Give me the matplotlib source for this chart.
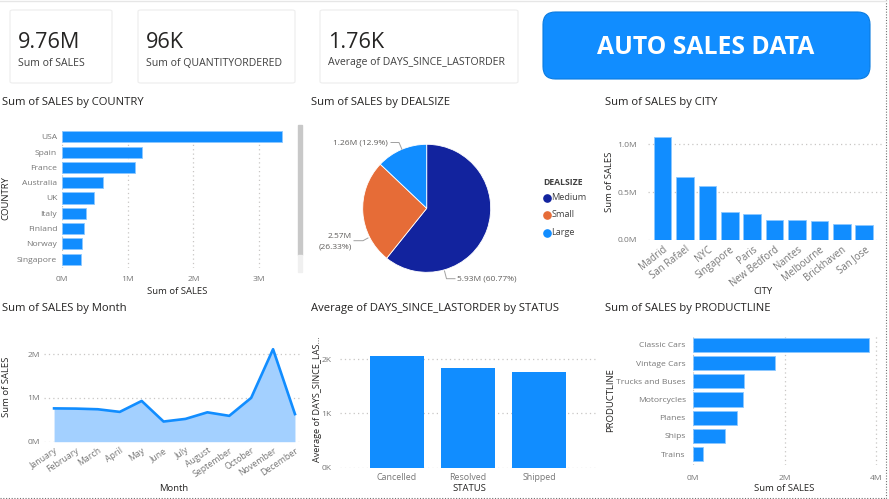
import numpy as np
import matplotlib
matplotlib.use("Agg")
import matplotlib.pyplot as plt
from matplotlib.patches import FancyBboxPatch, Rectangle
from matplotlib.lines import Line2D
from matplotlib.ticker import FuncFormatter

plt.rcParams['font.family'] = ['Open Sans', 'DejaVu Sans']

# ---- data ----
kpi_values = ['9.76M', '96K', '1.76K']
kpi_labels = ['Sum of SALES', 'Sum of QUANTITYORDERED', 'Average of DAYS_SINCE_LASTORDER']

countries = ['USA', 'Spain', 'France', 'Australia', 'UK', 'Italy', 'Finland', 'Norway', 'Singapore']
country_sales = [3.35e6, 1.22e6, 1.11e6, 0.63e6, 0.48e6, 0.37e6, 0.33e6, 0.31e6, 0.29e6]

dealsizes = ['Medium', 'Small', 'Large']
deal_sales = [5.93e6, 2.57e6, 1.26e6]
deal_pct = [60.77, 26.33, 12.9]

cities = ['Madrid', 'San Rafael', 'NYC', 'Singapore', 'Paris', 'New Bedford',
          'Nantes', 'Melbourne', 'Brickhaven', 'San Jose']
city_sales = [1.08e6, 0.655e6, 0.56e6, 0.29e6, 0.27e6, 0.21e6, 0.205e6, 0.20e6, 0.167e6, 0.16e6]

months = ['January', 'February', 'March', 'April', 'May', 'June', 'July',
          'August', 'September', 'October', 'November', 'December']
month_sales = [0.76e6, 0.755e6, 0.74e6, 0.68e6, 0.93e6, 0.46e6, 0.52e6,
               0.67e6, 0.59e6, 1.0e6, 2.11e6, 0.63e6]

statuses = ['Cancelled', 'Resolved', 'Shipped']
status_days = [2060, 1840, 1770]

productlines = ['Classic Cars', 'Vintage Cars', 'Trucks and Buses', 'Motorcycles',
                'Planes', 'Ships', 'Trains']
product_sales = [3.84e6, 1.80e6, 1.11e6, 1.10e6, 0.97e6, 0.70e6, 0.22e6]

# ---- styling ----
W, H = 889, 499
BLUE = '#118DFF'
EDGE = '#8cc8ff'
TITLE_C = '#252423'
LABEL_C = '#252423'
TICK_C = '#777777'
GRID_C = '#C8C6C4'
TITLE_FS = 8.1


def box(x0, y0, x1, y1):
    return [x0 / W, 1 - y1 / H, (x1 - x0) / W, (y1 - y0) / H]


def ftext(x, y, s, **kw):
    kw.setdefault('va', 'center')
    return fig.text(x / W, 1 - y / H, s, **kw)


def fline(xs, ys, **kw):
    fig.add_artist(Line2D([x / W for x in xs], [1 - y / H for y in ys],
                          transform=fig.transFigure, **kw))


def style(ax, grid_axis):
    for s in ax.spines.values():
        s.set_visible(False)
    ax.tick_params(length=0, labelsize=6.1, colors=TICK_C)
    ax.grid(axis=grid_axis, linestyle=(0, (1, 2.5)), color=GRID_C, linewidth=0.9)
    ax.set_axisbelow(True)


fmt_m = FuncFormatter(lambda v, p: f'{v / 1e6:.0f}M')

fig = plt.figure(figsize=(W / 100, H / 100), dpi=100)
fig.patch.set_facecolor('white')

# ---- KPI cards ----
cards = [(10, 112), (138, 295), (320, 518)]
for (x0, x1), v, lab in zip(cards, kpi_values, kpi_labels):
    fig.add_artist(FancyBboxPatch((x0 / W, 1 - 83 / H), (x1 - x0) / W, 73 / H,
                                  boxstyle='round,pad=0,rounding_size=0.003',
                                  transform=fig.transFigure, facecolor='white',
                                  edgecolor='#EDEDED', linewidth=0.8))
    ftext(x0 + 8, 43, v, fontsize=15.6, color='#252423')
    ftext(x0 + 8, 63, lab, fontsize=7.6, color='#404040')

fig.add_artist(FancyBboxPatch((543 / W, 1 - 79 / H), 327 / W, 67 / H,
                              boxstyle='round,pad=0,rounding_size=0.014',
                              mutation_aspect=W / H,
                              transform=fig.transFigure, facecolor=BLUE,
                              edgecolor='#0a7be0', linewidth=0.8))
ftext(706, 47.5, 'AUTO SALES DATA', fontsize=17.8, fontweight='bold', color='white', ha='center')

# ---- Sum of SALES by COUNTRY ----
ftext(2, 102, 'Sum of SALES by COUNTRY', fontsize=TITLE_FS, color=TITLE_C)
ax = fig.add_axes(box(62, 128, 290, 268))
yc = np.arange(len(countries))
ax.barh(yc, country_sales, height=0.72, color=BLUE, edgecolor=EDGE, linewidth=0.6)
ax.set_xlim(0, 3.47e6)
ax.set_ylim(8.57, -0.57)
ax.set_yticks(yc)
ax.set_yticklabels(countries)
ax.set_xticks([0, 1e6, 2e6, 3e6])
ax.xaxis.set_major_formatter(fmt_m)
style(ax, 'x')
ax.tick_params(axis='y', pad=3.5)
ax.tick_params(axis='x', pad=6)
ftext(177, 292, 'Sum of SALES', fontsize=6.8, color=LABEL_C, ha='center')
ftext(6, 198, 'COUNTRY', fontsize=6.8, color=LABEL_C, ha='center', rotation=90)
fig.add_artist(Rectangle((298 / W, 1 - 255 / H), 4 / W, 130 / H,
                         transform=fig.transFigure, color='#C8C8C8'))
fig.add_artist(Rectangle((298 / W, 1 - 272 / H), 4 / W, 17 / H,
                         transform=fig.transFigure, color='#F0F0F0'))

# ---- Sum of SALES by DEALSIZE ----
ftext(311, 102, 'Sum of SALES by DEALSIZE', fontsize=TITLE_FS, color=TITLE_C)
ax = fig.add_axes(box(362.7, 144.3, 490.7, 272.3))
ax.pie(deal_sales, colors=['#12239E', '#E66C37', BLUE], startangle=90,
       counterclock=False, radius=1, wedgeprops=dict(edgecolor='white', linewidth=0.6))
ax.set_xlim(-1, 1)
ax.set_ylim(-1, 1)
ax.set_aspect('equal')
pie_c = '#605E5C'
ftext(388, 143.3, f'{deal_sales[2] / 1e6:.2f}M ({deal_pct[2]}%)', fontsize=6, color=pie_c, ha='right')
fline([391, 399, 402], [142.5, 142.5, 149.5], color='#A0A0A0', linewidth=0.7)
ftext(352, 236.7, f'{deal_sales[1] / 1e6:.2f}M', fontsize=6, color=pie_c, ha='right')
ftext(352, 247.3, f'({deal_pct[1]}%)', fontsize=6, color=pie_c, ha='right')
fline([354, 363, 368], [240.7, 240.7, 238], color='#A0A0A0', linewidth=0.7)
ftext(457, 278.7, f'{deal_sales[0] / 1e6:.2f}M ({deal_pct[0]}%)', fontsize=6, color=pie_c, ha='left')
fline([444.5, 446.5, 455], [271, 278.7, 278.7], color='#A0A0A0', linewidth=0.7)
ftext(543, 182.7, 'DEALSIZE', fontsize=6.2, fontweight='bold', color='#404040')
for name, col, yy in zip(dealsizes, ['#12239E', '#E66C37', BLUE], [197.7, 214.7, 232.7]):
    fline([546.7], [yy], marker='o', markersize=5.2, color=col, linestyle='none')
    ftext(551.5, yy, name, fontsize=6.6, color='#404040')

# ---- Sum of SALES by CITY ----
ftext(605, 102, 'Sum of SALES by CITY', fontsize=TITLE_FS, color=TITLE_C)
ax = fig.add_axes(box(648, 128, 882, 240))
xc = np.arange(len(cities))
ax.bar(xc, city_sales, width=0.79, color=BLUE, edgecolor=EDGE, linewidth=0.6)
ax.set_xlim(-0.65, 9.79)
ax.set_ylim(0, 1.17e6)
ax.set_yticks([0, 0.5e6, 1.0e6])
ax.yaxis.set_major_formatter(FuncFormatter(lambda v, p: f'{v / 1e6:.1f}M'))
ax.set_xticks(xc)
ax.set_xticklabels(cities, rotation=38, ha='right', rotation_mode='anchor')
style(ax, 'y')
ax.tick_params(axis='y', pad=8)
ax.tick_params(axis='x', pad=3, labelsize=6.9)
ftext(763, 291, 'CITY', fontsize=6.8, color=LABEL_C, ha='center')
ftext(610, 182, 'Sum of SALES', fontsize=6.8, color=LABEL_C, ha='center', rotation=90)

# ---- Sum of SALES by Month ----
ftext(2, 308, 'Sum of SALES by Month', fontsize=TITLE_FS, color=TITLE_C)
ax = fig.add_axes(box(44, 340, 300, 441.7))
xm = np.arange(len(months))
ax.fill_between(xm, month_sales, color='#A3D0FF', linewidth=0)
ax.plot(xm, month_sales, color=BLUE, linewidth=1.9, solid_joinstyle='round')
ax.set_xlim(-0.46, 11.23)
ax.set_ylim(0, 2.32e6)
ax.set_yticks([0, 1e6, 2e6])
ax.yaxis.set_major_formatter(fmt_m)
ax.set_xticks(xm)
ax.set_xticklabels(months, rotation=34, ha='right', rotation_mode='anchor')
style(ax, 'y')
ax.tick_params(axis='y', pad=3)
ax.tick_params(axis='x', pad=3, labelsize=6.3)
ftext(174, 488.5, 'Month', fontsize=6.8, color=LABEL_C, ha='center')
ftext(7, 387, 'Sum of SALES', fontsize=6.8, color=LABEL_C, ha='center', rotation=90)

# ---- Average of DAYS_SINCE_LASTORDER by STATUS ----
ftext(311, 308, 'Average of DAYS_SINCE_LASTORDER by STATUS', fontsize=TITLE_FS, color=TITLE_C)
ax = fig.add_axes(box(340, 330, 596, 467.7))
xs = np.arange(len(statuses))
ax.bar(xs, status_days, width=0.76, color=BLUE)
ax.set_xlim(-0.8, 2.8)
ax.set_ylim(0, 2540)
ax.set_yticks([0, 1000, 2000])
ax.yaxis.set_major_formatter(FuncFormatter(lambda v, p: f'{v / 1e3:.0f}K'))
ax.set_xticks(xs)
ax.set_xticklabels(statuses)
style(ax, 'y')
ax.tick_params(axis='y', pad=6)
ax.tick_params(axis='x', pad=4, labelsize=6.4)
ftext(469, 488.5, 'STATUS', fontsize=6.8, color=LABEL_C, ha='center')
ftext(317, 399, 'Average of DAYS_SINCE_LAS...', fontsize=6.6, color=LABEL_C, ha='center', rotation=90)

# ---- Sum of SALES by PRODUCTLINE ----
ftext(605, 308, 'Sum of SALES by PRODUCTLINE', fontsize=TITLE_FS, color=TITLE_C)
ax = fig.add_axes(box(692.7, 334, 880, 465))
yp = np.arange(len(productlines))
ax.barh(yp, product_sales, height=0.77, color=BLUE, edgecolor=EDGE, linewidth=0.6)
ax.set_xlim(0, 4.08e6)
ax.set_ylim(6.6, -0.6)
ax.set_yticks(yp)
ax.set_yticklabels(productlines)
ax.set_xticks([0, 2e6, 4e6])
ax.xaxis.set_major_formatter(fmt_m)
style(ax, 'x')
ax.tick_params(axis='y', pad=5)
ax.tick_params(axis='x', pad=7)
ftext(784, 488.5, 'Sum of SALES', fontsize=6.8, color=LABEL_C, ha='center')
ftext(611, 400, 'PRODUCTLINE', fontsize=6.8, color=LABEL_C, ha='center', rotation=90)

# ---- dashboard borders ----
fline([886, 886], [0, 499], color='#707070', linewidth=0.8, linestyle=(0, (1, 1.5)))
fline([0, 886], [497.5, 497.5], color='#707070', linewidth=0.8, linestyle=(0, (1, 1.5)))
fline([0, 886], [0.5, 0.5], color='#E6E6E6', linewidth=1)

fig.savefig('out.png', dpi=100)
